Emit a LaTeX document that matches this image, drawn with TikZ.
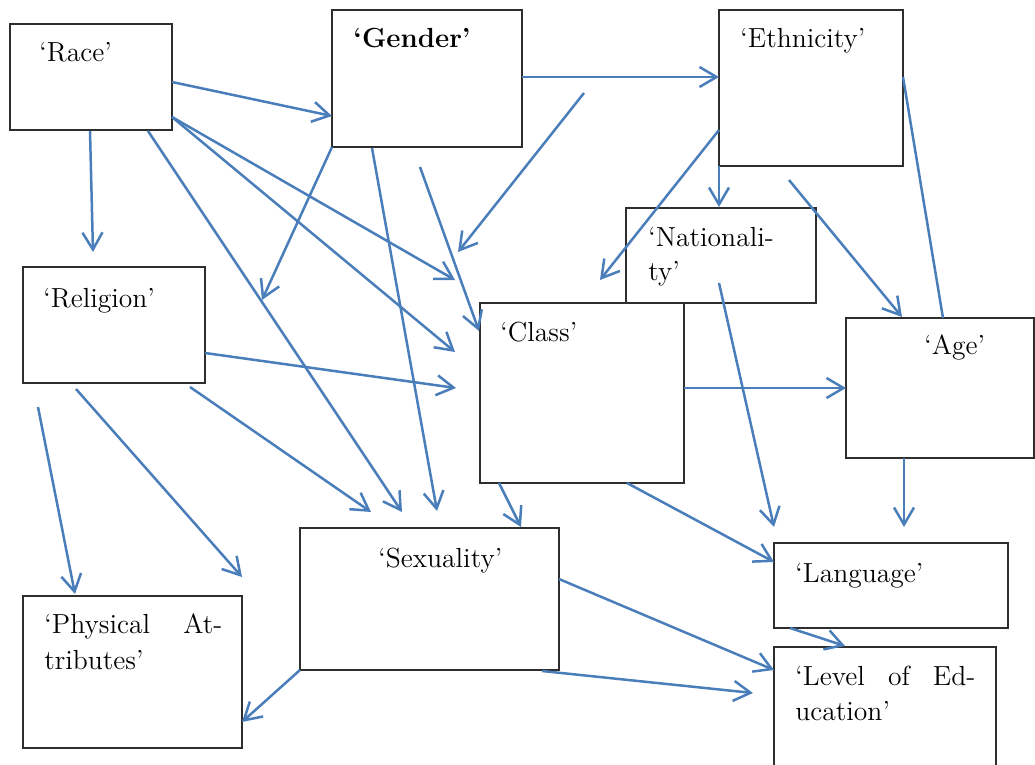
\documentclass[tikz,border=0pt]{standalone}
\usetikzlibrary{arrows.meta,fit}
\definecolor{arr}{HTML}{4A7EBB}
\definecolor{edgec}{HTML}{2E2E2E}
\tikzset{
  box/.style={draw=edgec, line width=0.75pt, inner sep=0pt, rectangle},
  lbl/.style={anchor=base west, inner sep=0pt, font=\fontsize{13.8}{17}\selectfont},
  link/.style={draw=arr, line width=1.25pt, -{Straight Barb[length=8.5pt,width=10pt,line width=1.25pt]}},
  plainlink/.style={draw=arr, line width=1.25pt},
}
\newcommand\mybox[5]{\coordinate (#1-a) at (#2,#3); \coordinate (#1-b) at (#4,#5); \node[box, fit=(#1-a)(#1-b)] (#1) {};}
\newcommand\conn[4]{\coordinate (#1-s) at (#3); \coordinate (#1-e) at (#4); \draw[#2] (#1-s) -- (#1-e);}
\begin{document}
\begin{tikzpicture}[x=0.5pt,y=-0.5pt]
\useasboundingbox[fill=white] (0,0) rectangle (1035,765);

% boxes
\mybox{race}{10}{24}{172}{130}
\mybox{gender}{332}{10}{522}{147}
\mybox{ethnicity}{719}{10}{903}{166}
\mybox{nationality}{626}{208}{816}{303}
\mybox{religion}{23}{267}{205}{383}
\mybox{class}{480}{303}{684}{483}
\mybox{age}{846}{318}{1034}{458}
\mybox{sexuality}{300}{528}{559}{670}
\mybox{physical}{23}{596}{242}{748}
\mybox{language}{774}{543}{1008}{628}
\mybox{education}{774}{647}{996}{790}

% labels
\node[lbl] (raceT) at (39,62) {‘Race’};
\node[lbl, font=\fontsize{13.8}{17}\selectfont\bfseries] (genderT) at (353,48) {‘Gender’};
\node[lbl] (ethnicityT) at (740,48) {‘Ethnicity’};
\node[lbl] (nationalityT1) at (648,247) {‘Nationali-};
\node[lbl] (nationalityT2) at (648,280) {ty’};
\node[lbl] (religionT) at (43,307) {‘Religion’};
\node[lbl] (classT) at (500,342) {‘Class’};
\node[lbl] (ageT) at (924,355) {‘Age’};
\node[lbl] (sexualityT) at (378,567) {‘Sexuality’};
\node[lbl] (physicalT1) at (44,633) {\makebox[89pt][s]{‘Physical At-}};
\node[lbl] (physicalT2) at (44,669) {tributes’};
\node[lbl] (languageT) at (795,582) {‘Language’};
\node[lbl] (educationT1) at (795,685) {\makebox[90pt][s]{‘Level of Ed-}};
\node[lbl] (educationT2) at (795,720) {ucation’};

% connectors
\conn{a1}{link}{172,82}{332,116}
\conn{a2}{link}{90,131}{93,252}
\conn{a3}{link}{148,131}{402,512}
\conn{a4}{link}{172,117}{455,280}
\conn{a5}{link}{172,117}{455,352}
\conn{a6}{link}{522,77}{719,77}
\conn{a7}{link}{332,147}{262,300}
\conn{a8}{link}{372,148}{437,511}
\conn{a9}{link}{420,167}{479,331}
\conn{a10}{link}{584,93}{458,252}
\conn{a11}{link}{719,130}{600,280}
\conn{a12}{link}{719,166}{719,207}
\conn{a13}{link}{789,180}{902,317}
\conn{p1}{plainlink}{903,77}{943,318}
\conn{a14}{link}{719,283}{774,527}
\conn{a15}{link}{205,353}{456,388}
\conn{a16}{link}{190,387}{371,512}
\conn{a17}{link}{76,389}{242,577}
\conn{a18}{link}{38,407}{75,594}
\conn{a19}{link}{684,388}{846,388}
\conn{a20}{link}{499,483}{521,527}
\conn{a21}{link}{627,483}{774,562}
\conn{a22}{link}{904,458}{904,527}
\conn{a23}{link}{559,579}{774,670}
\conn{a24}{link}{542,671}{753,693}
\conn{a25}{link}{300,670}{242,722}
\conn{a26}{link}{790,628}{845,646}
\end{tikzpicture}
\end{document}
